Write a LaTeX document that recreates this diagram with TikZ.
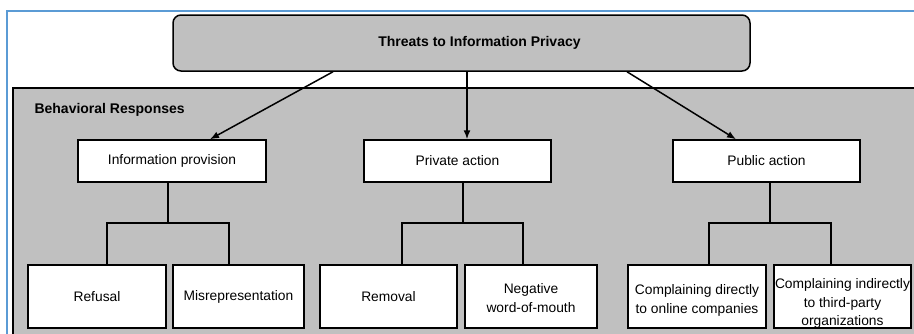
\documentclass[tikz,border=0pt]{standalone}
\usepackage{fontspec}
\setmainfont{Liberation Sans}
\usepackage{xcolor}
\usepackage{tikz}
\usetikzlibrary{arrows.meta}

\definecolor{panelgray}{RGB}{192,192,192}
\definecolor{framblue}{RGB}{91,155,213}
\newcommand{\cellstack}[2]{\raisebox{#1}[\height][\depth]{\begin{tabular}{@{}c@{}}#2\end{tabular}}}

\tikzset{
  box/.style={draw=black, line width=1.5pt, fill=white, inner sep=1pt,
    minimum height=42pt, align=center, font=\fontsize{13.8}{18.5}\selectfont},
  leaf/.style={box, minimum height=63pt},
  heading/.style={font=\fontsize{14}{16}\selectfont\bfseries},
  link/.style={line width=1.5pt},
  arr/.style={line width=1.5pt, -{Latex[length=9pt,width=7pt]}}
}

\begin{document}
\begin{tikzpicture}[x=1pt,y=-1pt]
            \useasboundingbox (0,0) rectangle (914,333);
            \clip (0,0) rectangle (914,333);
            \fill [white] (0,0) rectangle (914,333);
            % outer frame and panel
            \draw [framblue, line width=2pt] (7,340) -- (7,11) -- (920,11);
            \draw [panelgray, fill=panelgray] (13,88) rectangle (920,340);
            \draw [line width=1.5pt] (13,340) -- (13,88) -- (920,88);
            \node [anchor=west, heading] (resp) at (31,110) {Behavioral Responses};
            % top box
            \node [draw, line width=1.5pt, fill=panelgray, rounded corners=8pt, minimum width=577pt, minimum height=56pt] (threat) at (461.5,43) {};
            \node [heading] (threattext) at ([xshift=18pt]threat.center) {Threats to Information Privacy};
            % second row
            \node [box, minimum width=188pt] (info) at (172,161) {Information provision};
            \node [box, minimum width=187pt] (priv) at (457.5,161) {Private action};
            \node [box, minimum width=187pt] (pub) at (766.5,161) {Public action};
            % third row
            \node [leaf, minimum width=138pt] (refusal) at (97,296.5) {Refusal};
            \node [leaf, minimum width=131pt] (misrep) at (238.5,296.5) {Misrepresentation};
            \node [leaf, minimum width=137pt] (removal) at (388.5,296.5) {Removal};
            \node [leaf, minimum width=132pt] (negwom) at (531,296.5) {\cellstack{-3pt}{Negative\\word-of-mouth}};
            \node [leaf, minimum width=138pt] (direct) at (697,296.5) {\cellstack{-4pt}{Complaining directly\\to online companies}};
            \node [leaf, minimum width=135pt] (indirect) at (842.5,296.5) {\cellstack{-7pt}{Complaining indirectly\\to third-party\\organizations}};
            % arrows
            \draw [arr] ([xshift=-128.5pt]threat.south) -- ([xshift=38pt]info.north);
            \draw [arr] ([xshift=5.5pt]threat.south) -- ([xshift=9.5pt]priv.north);
            \draw [arr] ([xshift=165.5pt]threat.south) -- ([xshift=-30.5pt]pub.north);
            % trees
            \coordinate (jinfo) at (168,223);
            \coordinate (jpriv) at (463,223);
            \coordinate (jpub) at (770,223);
            \draw [link] (info.south -| jinfo) -- (jinfo);
            \draw [link] ([xshift=10pt]refusal.north) |- (jinfo) -| ([xshift=-9.5pt]misrep.north);
            \draw [link] (priv.south -| jpriv) -- (jpriv);
            \draw [link] ([xshift=13.5pt]removal.north) |- (jpriv) -| ([xshift=-8pt]negwom.north);
            \draw [link] (pub.south -| jpub) -- (jpub);
            \draw [link] ([xshift=12pt]direct.north) |- (jpub) -| ([xshift=-11.5pt]indirect.north);
        \end{tikzpicture}
\end{document}
